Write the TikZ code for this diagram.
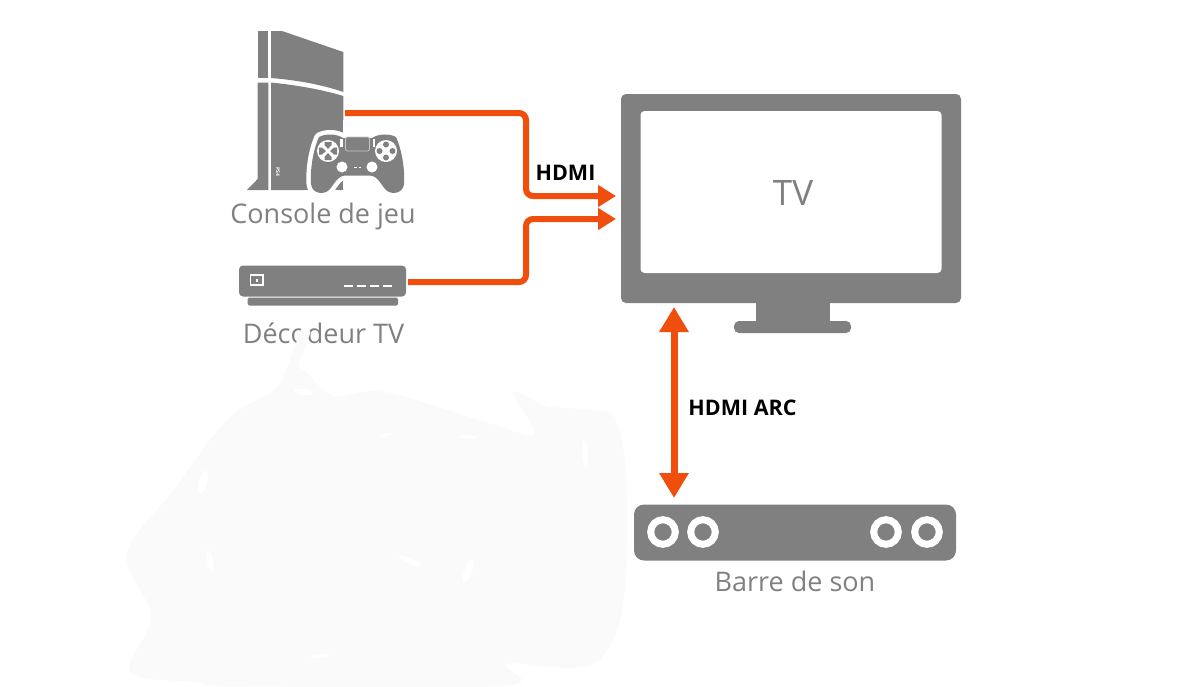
\documentclass[tikz,border=0pt]{standalone}
\usepackage{fontspec}
\setmainfont{Open Sans}
\usetikzlibrary{arrows.meta}
\definecolor{devicegray}{HTML}{808080}
\definecolor{cableorange}{HTML}{F04E0C}
\definecolor{smudge}{HTML}{FAFAFA}
\tikzset{
  device/.style={fill=devicegray,draw=none,rounded corners=5pt,inner sep=0pt},
  caption/.style={text=devicegray,font=\fontsize{27}{30}\selectfont,inner sep=0pt},
  cablename/.style={text=black,font=\fontsize{21.5}{25}\selectfont\bfseries,inner sep=0pt},
  cable/.style={draw=cableorange,line width=6pt,rounded corners=7pt},
  tipin/.style={-{Triangle[length=18pt,width=21pt]}},
  tipboth/.style={{Triangle[length=25pt,width=28pt]}-{Triangle[length=25pt,width=28pt]}}
}
\newcommand{\padoutline}{(319,137) .. controls (327,133) and (337,134) .. (343,138)
  -- (372,138) .. controls (378,134) and (388,133) .. (396,137)
  .. controls (402,150) and (405,170) .. (404,184)
  .. controls (403,194) and (391,195) .. (386,190)
  .. controls (381,185) and (378,176) .. (370,175.5)
  -- (345,175.5) .. controls (337,176) and (334,185) .. (329,190)
  .. controls (324,195) and (312,194) .. (311,184)
  .. controls (310,170) and (313,150) .. (319,137) -- cycle}
\begin{document}
\begin{tikzpicture}[x=1pt,y=-1pt]
  \useasboundingbox (0,0) rectangle (1199,686);

  \node [device,minimum width=340pt,minimum height=209pt] (tv) at (791,198.5) {};
  \node [fill=white,rounded corners=4pt,minimum width=301pt,minimum height=162pt,inner sep=0pt] (screen) at (791,192) {};
  \node [text=devicegray,font=\fontsize{35}{40}\selectfont,inner sep=0pt] (tvname) at (793,193) {TV};
  \fill [devicegray] (756,300) rectangle (830,325);
  \node [device,rounded corners=5pt,minimum width=117pt,minimum height=12pt] (tvfoot) at (792.5,327) {};

  \node [device,rounded corners=10pt,minimum width=322pt,minimum height=56pt] (soundbar) at (795,532.5) {};
  \foreach \ringx in {663,703,886,927}
    \draw [white,line width=7pt] (\ringx,532) circle [radius=12.3];
  \node [caption] (soundbarname) at (795,581.5) {Barre de son};

  \fill [devicegray] (257.7,31) rectangle (268.3,78);
  \fill [devicegray] (271,31) -- (282,31) -- (343.3,52) -- (343.3,92)
    .. controls (320,84) and (295,80) .. (271,78) -- cycle;
  \fill [devicegray] (257.7,82.5) -- (268.3,82.5) -- (268.3,190) -- (247,190) -- (257.7,179) -- cycle;
  \fill [devicegray] (271,82.5) .. controls (295,85) and (320,89) .. (343.3,96)
    -- (343.3,190) -- (271,190) -- cycle;
  \node [white,rotate=-90,font=\fontsize{5}{5}\selectfont\bfseries,inner sep=0pt] (consolelogo) at (278,172) {PS4};
  \fill [white] (305,190) rectangle (345,200);
  \fill [white] (343.3,120) rectangle (350,190);
  \draw [white,line width=9pt,line join=round] \padoutline;
  \fill [devicegray] \padoutline;
  \fill [white] (328,151) circle [radius=11];
  \foreach \petal in {0,90,180,270}
    \fill [devicegray,rotate around={\petal:(328,151)}] (328,149) -- (331.5,145) -- (331.5,142) -- (324.5,142) -- (324.5,145) -- cycle;
  \fill [white] (386,151) circle [radius=11];
  \foreach \dotx/\doty in {386/144.5,386/157.5,379.5/151,392.5/151}
    \fill [devicegray] (\dotx,\doty) circle [radius=3];
  \fill [white] (342,167) circle [radius=5.5];
  \fill [white] (372,167) circle [radius=5.5];
  \fill [devicegray,draw=devicegray!45!white,line width=.8pt,rounded corners=2pt] (345.5,137) rectangle (369.5,151);
  \fill [white] (340,139) rectangle (342.5,147);
  \fill [white] (372.5,139) rectangle (375,147);
  \fill [white] (354,167) rectangle (357,168);
  \fill [white] (358.5,166.5) rectangle (361,168);
  \coordinate (console) at (345,113);
  \node [caption] (consolename) at (323,216) {Console de jeu};

  \node [device,rounded corners=4pt,minimum width=167pt,minimum height=31pt] (decoder) at (322.5,281) {};
  \fill [devicegray,rounded corners=1.5pt] (247.7,297.5) rectangle (398,305.5);
  \draw [white,line width=1.4pt] (250.5,275) rectangle (263,285);
  \fill [white] (255.5,278.5) rectangle (258,281.5);
  \foreach \dashx in {344,357,370,383}
    \fill [white] (\dashx,284.5) rectangle ++(9,2.6);
  \node [caption] (decodername) at (323.5,333) {Décodeur TV};

  \coordinate (tvtop) at (616,196);
  \coordinate (tvlow) at (616,219);
  \coordinate (tvport) at (674,307);
  \coordinate (barport) at (674,498);
  \draw [cable,tipin] (console) -- (526,113) -- (526,196) -- (tvtop);
  \draw [cable,tipin,shorten <=2pt] (decoder.east) ++(0,1) -- (526,282) -- (526,219) -- (tvlow);
  \draw [cable,tipboth,rounded corners=0pt,line width=7pt] (tvport) -- (barport);
  \node [cablename] (hdmi) at (565.5,173) {HDMI};
  \node [cablename] (hdmiarc) at (742.5,408) {HDMI ARC};

  \fill [smudge] plot [smooth cycle,tension=0.6] coordinates {
    (131,672) (151,616) (127,554) (172,492) (227,420) (275,389) (289,365)
    (306,372) (334,396) (385,392) (489,423) (534,434) (513,392) (547,406)
    (592,410) (616,420) (627,492) (623,606) (602,657) (571,668) (506,664)
    (503,686) (230,686) (200,682)};
  \draw [smudge,line width=10pt] (289,378) -- (306,330);
  \foreach \spotx/\spoty/\spotw/\spoth/\spotr in {410/561/12/3/-25,468/571/4/12/-20,210/561/3/11/10,
      585/454/3/14/5,303/392/9/3/-10,203/482/4/12/-15,320/656/10/1.5/5,385/435/6/1.5/15,468/437/10/1.5/-5}
    \fill [white] (\spotx,\spoty) ellipse [x radius=\spotw,y radius=\spoth,rotate=\spotr];
\end{tikzpicture}
\end{document}
